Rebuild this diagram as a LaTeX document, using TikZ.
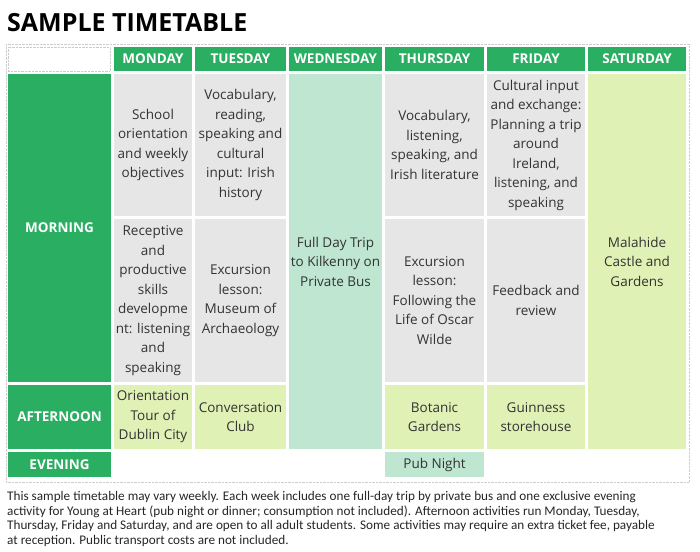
\documentclass[tikz,border=0pt]{standalone}
\usepackage{fontspec}
\setmainfont{Open Sans}
\newfontfamily\notefont{Carlito}
\definecolor{hdgreen}{HTML}{2AAE62}
\definecolor{lessongray}{HTML}{E6E6E6}
\definecolor{actgreen}{HTML}{DFF1B5}
\definecolor{tripmint}{HTML}{BEE6D0}
\definecolor{inkgray}{HTML}{333333}

\begin{document}
\begin{tikzpicture}[x=1pt,y=-1pt,
    box/.style={inner sep=0pt,align=center},
    daycell/.style={box,fill=hdgreen,text=white,font=\bfseries\fontsize{13.5}{16}\selectfont},
    lesson/.style={box,fill=lessongray,text=inkgray,font=\fontsize{13.5}{19.5}\selectfont},
    activity/.style={lesson,fill=actgreen},
    trip/.style={lesson,fill=tripmint}]
    \useasboundingbox (0,0) rectangle (700,551);
    \node[anchor=base west,inner sep=0pt,font=\bfseries\fontsize{25}{28}\selectfont] (title) at (7,32) {SAMPLE TIMETABLE};
    \draw[densely dotted,black!20] (6,44) rectangle (689,482);
    \node[box,draw=black!20,densely dotted,minimum width=102,minimum height=24] (corner) at (59,59) {};
    % day headers
    \node[daycell,minimum width=78,minimum height=24] (mon) at (153,59) {MONDAY};
    \node[daycell,minimum width=91,minimum height=24] (tue) at (240.5,59) {TUESDAY};
    \node[daycell,minimum width=93,minimum height=24] (wed) at (335.5,59) {WEDNESDAY};
    \node[daycell,minimum width=99,minimum height=24] (thu) at (434.5,59) {THURSDAY};
    \node[daycell,minimum width=98,minimum height=24] (fri) at (536,59) {FRIDAY};
    \node[daycell,minimum width=98,minimum height=24] (sat) at (637,59) {SATURDAY};
    % time of day
    \node[daycell,minimum width=103,minimum height=308] (morning) at (59.5,228) {MORNING};
    \node[daycell,minimum width=103,minimum height=64] (afternoon) at (59.5,417) {AFTERNOON};
    \node[daycell,minimum width=103,minimum height=25] (evening) at (59.5,464.5) {EVENING};
    % morning
    \node[lesson,minimum width=78,minimum height=142] (mon1) at (153,145) {School\\orientation\\and weekly\\objectives};
    \node[lesson,minimum width=91,minimum height=142] (tue1) at (240.5,145) {Vocabulary,\\reading,\\speaking and\\cultural\\input: Irish\\history};
    \node[lesson,minimum width=99,minimum height=142] (thu1) at (434.5,145) {Vocabulary,\\listening,\\speaking, and\\Irish literature};
    \node[lesson,minimum width=98,minimum height=142] (fri1) at (536,145) {Cultural input\\and exchange:\\Planning a trip\\around\\Ireland,\\listening, and\\speaking};
    \node[lesson,minimum width=78,minimum height=163] (mon2) at (153,300.5) {Receptive\\and\\productive\\skills\\developme\\nt: listening\\and\\speaking};
    \node[lesson,minimum width=91,minimum height=163] (tue2) at (240.5,300.5) {Excursion\\lesson:\\Museum of\\Archaeology};
    \node[lesson,minimum width=99,minimum height=163] (thu2) at (434.5,300.5) {Excursion\\lesson:\\Following the\\Life of Oscar\\Wilde};
    \node[lesson,minimum width=98,minimum height=163] (fri2) at (536,300.5) {Feedback and\\review};
    % full days
    \node[trip,minimum width=93,minimum height=375] (kilkenny) at (335.5,261.5) {Full Day Trip\\to Kilkenny on\\Private Bus};
    \node[activity,minimum width=98,minimum height=375] (malahide) at (637,261.5) {Malahide\\Castle and\\Gardens};
    % afternoon
    \node[activity,minimum width=78,minimum height=64] (mon3) at (153,417) {Orientation\\Tour of\\Dublin City};
    \node[activity,minimum width=91,minimum height=64] (tue3) at (240.5,417) {Conversation\\Club};
    \node[activity,minimum width=99,minimum height=64] (thu3) at (434.5,417) {Botanic\\Gardens};
    \node[activity,minimum width=98,minimum height=64] (fri3) at (536,417) {Guinness\\storehouse};
    % evening
    \node[trip,minimum width=99,minimum height=25] (pub) at (434.5,464.5) {Pub Night};
    \node[anchor=north west,inner sep=0pt,align=left,text=black!85,font=\notefont\fontsize{13.2}{14.7}\selectfont] (note) at (7,491) {This sample timetable may vary weekly. Each week includes one full-day trip by private bus and one exclusive evening\\activity for Young at Heart (pub night or dinner; consumption not included). Afternoon activities run Monday, Tuesday,\\Thursday, Friday and Saturday, and are open to all adult students. Some activities may require an extra ticket fee, payable\\at reception. Public transport costs are not included.};
\end{tikzpicture}
\end{document}
